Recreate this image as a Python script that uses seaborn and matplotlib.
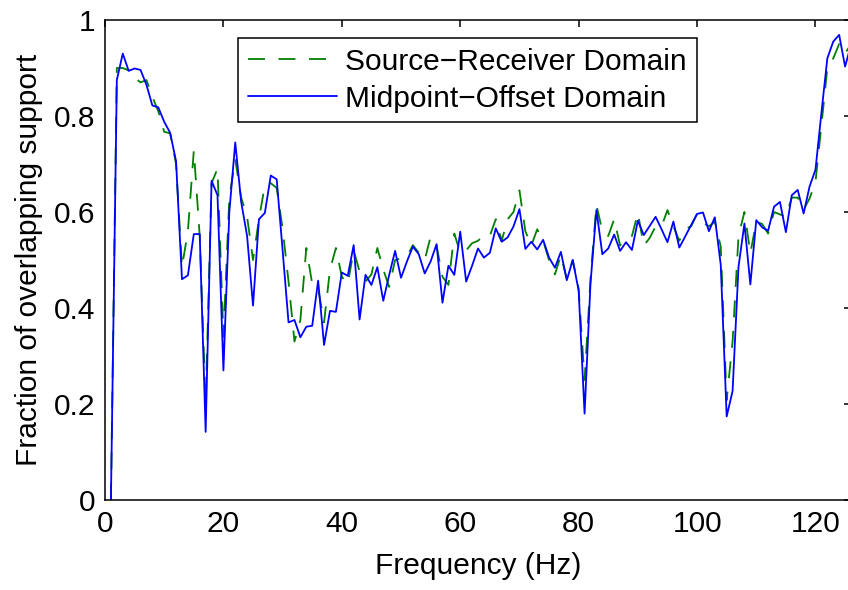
import numpy as np
import pandas as pd
import matplotlib
matplotlib.use("Agg")
import matplotlib.pyplot as plt
import seaborn as sns

# Frequency axis (Hz)
freq = list(range(1, 127))

# Fraction of overlapping support, source-receiver domain
source_receiver = [
    0.0, 0.90, 0.90, 0.895, 0.88, 0.87, 0.875, 0.84, 0.81, 0.767,
    0.764, 0.70, 0.485, 0.56, 0.728, 0.55, 0.20, 0.66, 0.69, 0.34,
    0.63, 0.71, 0.63, 0.59, 0.50, 0.585, 0.656, 0.66, 0.65, 0.565,
    0.455, 0.33, 0.375, 0.525, 0.45, 0.44, 0.37, 0.48, 0.525, 0.465,
    0.45, 0.52, 0.476, 0.455, 0.47, 0.525, 0.48, 0.444, 0.50, 0.503,
    0.507, 0.531, 0.515, 0.50, 0.549, 0.53, 0.465, 0.448, 0.555, 0.515,
    0.52, 0.535, 0.54, 0.552, 0.55, 0.585, 0.54, 0.585, 0.60, 0.645,
    0.56, 0.53, 0.564, 0.54, 0.50, 0.47, 0.51, 0.46, 0.50, 0.44,
    0.25, 0.46, 0.615, 0.56, 0.55, 0.585, 0.53, 0.546, 0.55, 0.598,
    0.53, 0.546, 0.57, 0.57, 0.604, 0.57, 0.54, 0.565, 0.57, 0.596,
    0.578, 0.57, 0.58, 0.528, 0.208, 0.33, 0.55, 0.60, 0.514, 0.58,
    0.575, 0.555, 0.60, 0.595, 0.59, 0.63, 0.63, 0.605, 0.628, 0.663,
    0.78, 0.90, 0.92, 0.95, 0.93, 0.95,
]

# Fraction of overlapping support, midpoint-offset domain
midpoint_offset = [
    0.0, 0.875, 0.93, 0.894, 0.899, 0.896, 0.865, 0.822, 0.818, 0.788,
    0.765, 0.706, 0.46, 0.468, 0.554, 0.554, 0.142, 0.665, 0.635, 0.27,
    0.60, 0.745, 0.621, 0.55, 0.405, 0.585, 0.598, 0.676, 0.668, 0.52,
    0.37, 0.375, 0.339, 0.361, 0.363, 0.457, 0.323, 0.394, 0.392, 0.474,
    0.467, 0.531, 0.376, 0.469, 0.448, 0.485, 0.415, 0.469, 0.519, 0.463,
    0.497, 0.528, 0.512, 0.472, 0.497, 0.533, 0.411, 0.488, 0.469, 0.559,
    0.455, 0.488, 0.524, 0.505, 0.515, 0.566, 0.538, 0.547, 0.57, 0.606,
    0.523, 0.538, 0.522, 0.542, 0.505, 0.484, 0.517, 0.458, 0.50, 0.436,
    0.18, 0.451, 0.604, 0.512, 0.524, 0.553, 0.519, 0.537, 0.521, 0.582,
    0.552, 0.571, 0.59, 0.564, 0.537, 0.58, 0.526, 0.549, 0.573, 0.596,
    0.599, 0.56, 0.589, 0.49, 0.174, 0.227, 0.486, 0.576, 0.449, 0.583,
    0.568, 0.561, 0.611, 0.621, 0.558, 0.635, 0.646, 0.597, 0.653, 0.688,
    0.806, 0.92, 0.955, 0.969, 0.903, 0.948,
]

series_names = ["Source\u2212Receiver Domain", "Midpoint\u2212Offset Domain"]
x_ticks = [0, 20, 40, 60, 80, 100, 120]
y_ticks = [0, 0.2, 0.4, 0.6, 0.8, 1]
y_tick_labels = ["0", "0.2", "0.4", "0.6", "0.8", "1"]

df = pd.DataFrame({
    "freq": freq * 2,
    "value": source_receiver + midpoint_offset,
    "domain": [series_names[0]] * len(freq) + [series_names[1]] * len(freq),
})

sns.set_style("white")
plt.rcParams["font.family"] = ["Liberation Sans", "DejaVu Sans"]
plt.rcParams["font.size"] = 21.5
for key in ["text.color", "axes.labelcolor", "xtick.color", "ytick.color"]:
    plt.rcParams[key] = "black"

FS = 21.5

fig = plt.figure(figsize=(8.48, 5.90), dpi=100)
ax = fig.add_axes([105 / 848, 90 / 590, 746 / 848, 480 / 590])

palette = {series_names[0]: (0.0, 0.5, 0.0), series_names[1]: (0.0, 0.0, 1.0)}
sns.lineplot(data=df, x="freq", y="value", hue="domain", palette=palette,
             ax=ax, linewidth=1.3, legend=False, sort=False)
lines = ax.get_lines()
lines[0].set_linestyle((0, (9.4, 7.5)))
lines[1].set_linestyle("-")

ax.set_xlim(0, 126)
ax.set_ylim(0, 1)
ax.set_xticks(x_ticks)
ax.set_yticks(y_ticks)
ax.set_yticklabels(y_tick_labels)
ax.set_xlabel("Frequency (Hz)", fontsize=FS, labelpad=10)
ax.set_ylabel("Fraction of overlapping support", fontsize=FS, labelpad=8)

for side in ["left", "right", "top", "bottom"]:
    ax.spines[side].set_visible(True)
    ax.spines[side].set_color("black")
    ax.spines[side].set_linewidth(1.1)
ax.tick_params(axis="both", which="both", direction="in", length=5, width=1.1,
               top=True, right=True, labelsize=FS, colors="black")
ax.tick_params(axis="x", pad=7)
ax.tick_params(axis="y", pad=7)

leg = ax.legend(lines, series_names, loc="upper left",
                bbox_to_anchor=(0.1785, 0.9625), borderaxespad=0,
                frameon=True, fancybox=False, framealpha=1, edgecolor="black",
                fontsize=FS, handlelength=3.0, handletextpad=0.27,
                labelspacing=0.3, borderpad=0.32)
leg.get_frame().set_linewidth(1.1)

fig.savefig("out.png", dpi=100)
